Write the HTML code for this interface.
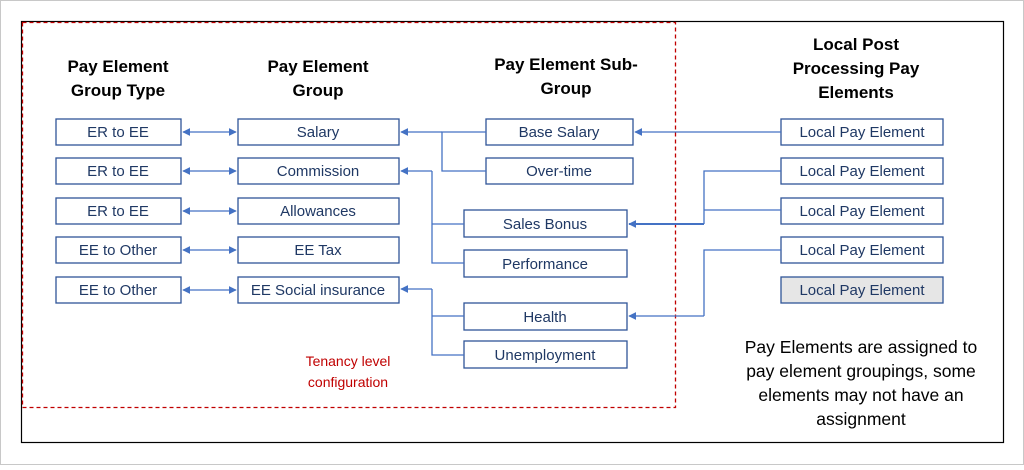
<!DOCTYPE html>
<html><head><meta charset="utf-8"><style>
body{margin:0;width:1024px;height:465px;background:#fff;font-family:"Liberation Sans",sans-serif;overflow:hidden}
svg text{font-family:"Liberation Sans",sans-serif}
</style></head><body>
<svg width="1024" height="465" viewBox="0 0 1024 465" xmlns="http://www.w3.org/2000/svg">
<defs>
<marker id="a" viewBox="0 0 10 10" refX="9" refY="5" markerWidth="8" markerHeight="8" markerUnits="userSpaceOnUse" orient="auto-start-reverse"><path d="M0,0L10,5L0,10z" fill="#4472c4"/></marker>
</defs>
<rect x="0.5" y="0.5" width="1023" height="464" fill="#fff" stroke="#c8c8c8"/>
<rect x="21.5" y="21.5" width="982" height="421" fill="none" stroke="#000" stroke-width="1.2"/>
<rect x="22.5" y="22.5" width="653" height="385" fill="none" stroke="#c00000" stroke-width="1.3" stroke-dasharray="4,3"/>
<g font-weight="bold" font-size="17" fill="#000" text-anchor="middle">
<text x="118" y="72">Pay Element</text><text x="118" y="96">Group Type</text>
<text x="318" y="72">Pay Element</text><text x="318" y="96">Group</text>
<text x="566" y="70">Pay Element Sub-</text><text x="566" y="94">Group</text>
<text x="856" y="50">Local Post</text><text x="856" y="74">Processing Pay</text><text x="856" y="98">Elements</text>
</g>
<g fill="#fff" stroke="#2f5597" stroke-width="1.3">
<rect x="56" y="119" width="125" height="26"/><rect x="56" y="158" width="125" height="26"/><rect x="56" y="198" width="125" height="26"/><rect x="56" y="237" width="125" height="26"/><rect x="56" y="277" width="125" height="26"/>
<rect x="238" y="119" width="161" height="26"/><rect x="238" y="158" width="161" height="26"/><rect x="238" y="198" width="161" height="26"/><rect x="238" y="237" width="161" height="26"/><rect x="238" y="277" width="161" height="26"/>
<rect x="486" y="119" width="147" height="26"/><rect x="486" y="158" width="147" height="26"/>
<rect x="464" y="210" width="163" height="27"/><rect x="464" y="250" width="163" height="27"/><rect x="464" y="303" width="163" height="27"/><rect x="464" y="341" width="163" height="27"/>
<rect x="781" y="119" width="162" height="26"/><rect x="781" y="158" width="162" height="26"/><rect x="781" y="198" width="162" height="26"/><rect x="781" y="237" width="162" height="26"/>
<rect x="781" y="277" width="162" height="26" fill="#e6e6e6"/>
</g>
<g font-size="15" fill="#1f3864" text-anchor="middle">
<text x="118" y="137">ER to EE</text><text x="118" y="176">ER to EE</text><text x="118" y="216">ER to EE</text><text x="118" y="255">EE to  Other</text><text x="118" y="295">EE to Other</text>
<text x="318" y="137">Salary</text><text x="318" y="176">Commission</text><text x="318" y="216">Allowances</text><text x="318" y="255">EE Tax</text><text x="318" y="295">EE Social insurance</text>
<text x="559" y="137">Base Salary</text><text x="559" y="176">Over-time</text>
<text x="545" y="229">Sales Bonus</text><text x="545" y="269">Performance</text><text x="545" y="322">Health</text><text x="545" y="360">Unemployment</text>
<text x="862" y="137">Local Pay Element</text><text x="862" y="176">Local Pay Element</text><text x="862" y="216">Local Pay Element</text><text x="862" y="255">Local Pay Element</text><text x="862" y="295">Local Pay Element</text>
</g>
<g stroke="#4472c4" stroke-width="1.3" fill="none">
<line x1="183" y1="132" x2="236" y2="132" marker-start="url(#a)" marker-end="url(#a)"/>
<line x1="183" y1="171" x2="236" y2="171" marker-start="url(#a)" marker-end="url(#a)"/>
<line x1="183" y1="211" x2="236" y2="211" marker-start="url(#a)" marker-end="url(#a)"/>
<line x1="183" y1="250" x2="236" y2="250" marker-start="url(#a)" marker-end="url(#a)"/>
<line x1="183" y1="290" x2="236" y2="290" marker-start="url(#a)" marker-end="url(#a)"/>
<path d="M486,132H442V171H486"/><line x1="442" y1="132" x2="401" y2="132" marker-end="url(#a)"/>
<path d="M464,263H432V171"/><path d="M432,224H464"/><line x1="432" y1="171" x2="401" y2="171" marker-end="url(#a)"/>
<path d="M464,355H432V289"/><path d="M432,316H464"/><line x1="432" y1="289" x2="401" y2="289" marker-end="url(#a)"/>
<line x1="781" y1="132" x2="635" y2="132" marker-end="url(#a)"/>
<path d="M781,171H704V224"/><path d="M781,210H704"/><line x1="704" y1="224" x2="629" y2="224" stroke-width="2" marker-end="url(#a)"/>
<path d="M781,250H704V316"/><line x1="704" y1="316" x2="629" y2="316" marker-end="url(#a)"/>
</g>
<g font-size="14" fill="#c00000" text-anchor="middle"><text x="348" y="366">Tenancy level</text><text x="348" y="387">configuration</text></g>
<g font-size="17.5" fill="#000" text-anchor="middle"><text x="861" y="353">Pay Elements  are assigned to</text><text x="861" y="377">pay element groupings, some</text><text x="861" y="401">elements may not have an</text><text x="861" y="425">assignment</text></g>
</svg>
</body></html>
